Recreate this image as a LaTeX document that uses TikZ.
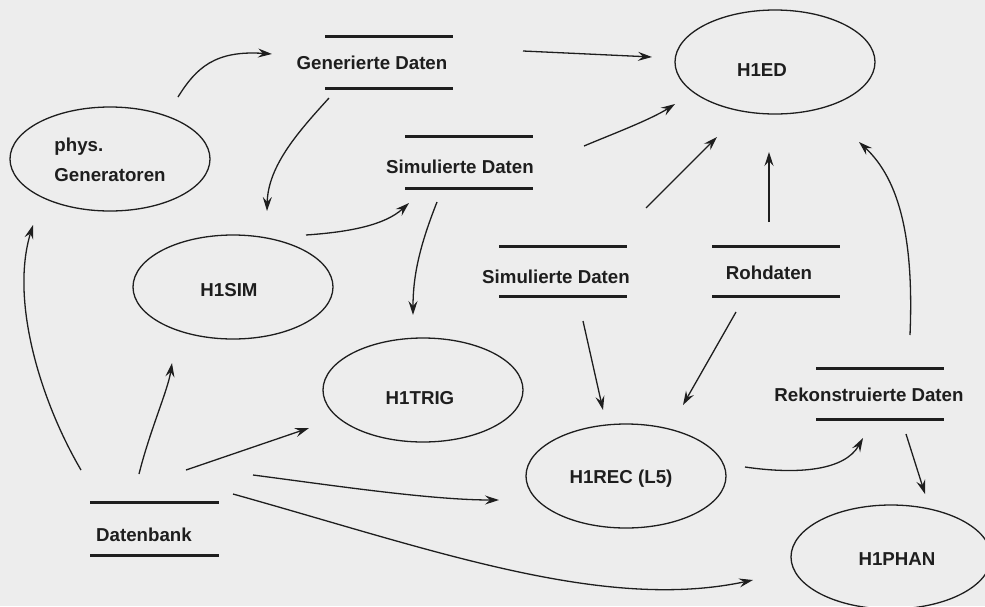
\documentclass[tikz,border=0pt]{standalone}
\usepackage{fontspec}
\setmainfont{Liberation Sans}
\usetikzlibrary{arrows.meta,shapes.geometric}
\definecolor{paper}{RGB}{237,237,237}
\definecolor{ink}{RGB}{30,30,30}
\begin{document}
\begin{tikzpicture}[x=1pt,y=-1pt,
  proc/.style={draw=ink, line width=1.3pt, ellipse, minimum width=200pt, minimum height=104pt, inner sep=0pt},
  lbl/.style={font=\bfseries\fontsize{18.7}{30}\selectfont, text=ink, inner sep=0pt},
  storeline/.style={draw=ink, line width=3pt},
  flow/.style={draw=ink, line width=1.3pt, -{Stealth[length=14pt,width=9pt,inset=5pt]}}]
\fill[paper] (0,0) rectangle (985,606);
\useasboundingbox (0,0) rectangle (985,606);

% processes (ellipses)
\node[proc] (gen)  at (110,159) {};
\node[proc] (sim)  at (233,287) {};
\node[proc] (ed)   at (775,62)  {};
\node[proc] (trig) at (423,390) {};
\node[proc] (rec)  at (626,476) {};
\node[proc] (phan) at (891,557) {};

\node[lbl, align=left] (genT) at (110,160) {phys.\\Generatoren};
\node[lbl] (simT)  at (229,290) {H1SIM};
\node[lbl] (edT)   at (762,70)  {H1ED};
\node[lbl] (trigT) at (420,398) {H1TRIG};
\node[lbl] (recT)  at (621,479) {H1REC (L5)};
\node[lbl] (phanT) at (897,559) {H1PHAN};

% data stores
\draw[storeline] (325,36) -- (453,36);
\draw[storeline] (325,88) -- (453,88);
\node[lbl] (gd) at (372,63) {Generierte Daten};

\draw[storeline] (405,136) -- (533,136);
\draw[storeline] (405,188) -- (533,188);
\node[lbl] (sd1) at (460,167) {Simulierte Daten};

\draw[storeline] (499,246) -- (627,246);
\draw[storeline] (499,296) -- (627,296);
\node[lbl] (sd2) at (556,277) {Simulierte Daten};

\draw[storeline] (712,246) -- (840,246);
\draw[storeline] (712,296) -- (840,296);
\node[lbl] (rd) at (769,273) {Rohdaten};

\draw[storeline] (816,368) -- (944,368);
\draw[storeline] (816,419) -- (944,419);
\node[lbl] (rk) at (869,395) {Rekonstruierte Daten};

\draw[storeline] (90,502) -- (219,502);
\draw[storeline] (90,555) -- (219,555);
\node[lbl] (db) at (144,535) {Datenbank};

% connector end points
\coordinate (a1s) at (178,97);  \coordinate (a1e) at (272,54);
\coordinate (a2s) at (329,98);  \coordinate (a2e) at (267,211);
\coordinate (a3s) at (306,235); \coordinate (a3e) at (409,203);
\coordinate (a4s) at (437,202); \coordinate (a4e) at (413,315);
\coordinate (a5s) at (523,51);  \coordinate (a5e) at (652,57);
\coordinate (a6s) at (584,146); \coordinate (a6e) at (675,104);
\coordinate (a7s) at (646,208); \coordinate (a7e) at (717,137);
\coordinate (a8s) at (769,222); \coordinate (a8e) at (769,152);
\coordinate (a9s) at (910,335); \coordinate (a9e) at (859,142);
\coordinate (a10s) at (745,467); \coordinate (a10e) at (863,438);
\coordinate (a11s) at (583,321); \coordinate (a11e) at (603,410);
\coordinate (a12s) at (736,312); \coordinate (a12e) at (683,405);
\coordinate (a13s) at (906,434); \coordinate (a13e) at (925,494);
\coordinate (a14s) at (81,470);  \coordinate (a14e) at (33,225);
\coordinate (a15s) at (139,474); \coordinate (a15e) at (172,363);
\coordinate (a16s) at (186,470); \coordinate (a16e) at (309,428);
\coordinate (a17s) at (253,475); \coordinate (a17e) at (499,500);
\coordinate (a18s) at (233,494); \coordinate (a18e) at (753,580);

% connectors
\draw[flow] (a1s) .. controls (196,68) and (215,50) .. (a1e);
\draw[flow] (a2s) .. controls (300,130) and (268,165) .. (a2e);
\draw[flow] (a3s) .. controls (350,232) and (385,225) .. (a3e);
\draw[flow] (a4s) .. controls (420,245) and (413,275) .. (a4e);
\draw[flow] (a5s) -- (a5e);
\draw[flow] (a6s) .. controls (610,135) and (650,120) .. (a6e);
\draw[flow] (a7s) -- (a7e);
\draw[flow] (a8s) -- (a8e);
\draw[flow] (a9s) .. controls (914,240) and (900,180) .. (a9e);
\draw[flow] (a10s) .. controls (800,475) and (845,470) .. (a10e);
\draw[flow] (a11s) -- (a11e);
\draw[flow] (a12s) -- (a12e);
\draw[flow] (a13s) -- (a13e);
\draw[flow] (a14s) .. controls (40,400) and (10,300) .. (a14e);
\draw[flow] (a15s) .. controls (150,430) and (168,390) .. (a15e);
\draw[flow] (a16s) -- (a16e);
\draw[flow] (a17s) .. controls (330,485) and (430,500) .. (a17e);
\draw[flow] (a18s) .. controls (433,550) and (603,612) .. (a18e);
\end{tikzpicture}
\end{document}
